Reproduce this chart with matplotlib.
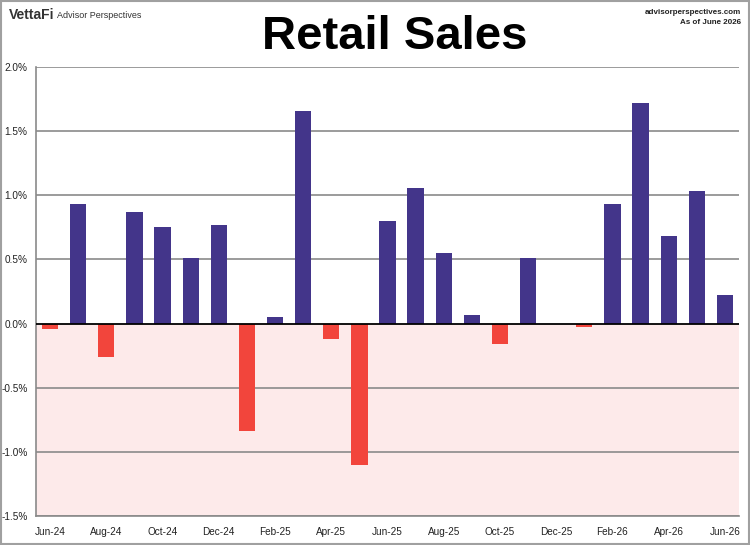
import numpy as np
import matplotlib.pyplot as plt
from matplotlib.patches import Rectangle

plt.rcParams['font.family'] = ['Liberation Sans', 'DejaVu Sans']

# 月度零售销售环比变化 (%)
months = ["Jun-24", "Jul-24", "Aug-24", "Sep-24", "Oct-24", "Nov-24", "Dec-24",
          "Jan-25", "Feb-25", "Mar-25", "Apr-25", "May-25", "Jun-25", "Jul-25",
          "Aug-25", "Sep-25", "Oct-25", "Nov-25", "Dec-25", "Jan-26", "Feb-26",
          "Mar-26", "Apr-26", "May-26", "Jun-26"]
changes = [-0.04, 0.93, -0.26, 0.87, 0.75, 0.51, 0.77,
           -0.84, 0.05, 1.66, -0.12, -1.10, 0.80, 1.06,
           0.55, 0.07, -0.16, 0.51, 0.00, -0.03, 0.93,
           1.72, 0.68, 1.03, 0.22]
yticks = [-1.5, -1.0, -0.5, 0.0, 0.5, 1.0, 1.5, 2.0]

purple = "#43358a"
red = "#f2453c"

fig = plt.figure(figsize=(7.5, 5.45), dpi=100)
ax = fig.add_axes([36 / 750, 29 / 545, 703 / 750, 449 / 545])

x = np.arange(len(months))
vals = np.array(changes)
colors = [purple if v >= 0 else red for v in vals]

ax.set_xlim(-0.5, len(months) - 0.5)
ax.set_ylim(-1.5, 2.0)

# 负值区域浅粉背景
ax.axhspan(-1.5, 0, color="#fdeaea", zorder=0)

for y in yticks:
    if y != 0:
        ax.axhline(y, color="#8a8a8a", lw=1.2, zorder=1)

ax.bar(x, vals, width=0.58, color=colors, zorder=2)
ax.axhline(0, color="black", lw=1.3, zorder=3)

ax.set_yticks(yticks)
ax.set_yticklabels([f"{y:.1f}%" for y in yticks])
ax.set_xticks(x[::2])
ax.set_xticklabels(months[::2])
ax.tick_params(axis="both", length=0, labelsize=7.2, colors="#222222")
ax.tick_params(axis="x", pad=8)
ax.tick_params(axis="y", pad=6)

for side in ["top", "right"]:
    ax.spines[side].set_visible(False)
ax.spines["left"].set_color("#8a8a8a")
ax.spines["bottom"].set_color("#8a8a8a")
ax.spines["left"].set_linewidth(1.2)
ax.spines["bottom"].set_linewidth(1.2)

fig.text(395 / 750, 1 - 37 / 545, "Retail Sales", ha="center", va="center",
         fontsize=34, fontweight="bold")
fig.text(9 / 750, 1 - 15 / 545, "VettaFi", ha="left", va="center",
         fontsize=10, fontweight="bold", color="#333333")
fig.text(57 / 750, 1 - 15 / 545, "Advisor Perspectives", ha="left", va="center",
         fontsize=6.5, color="#333333")
fig.text(741 / 750, 1 - 12 / 545, "advisorperspectives.com", ha="right", va="center",
         fontsize=5.8, fontweight="bold", color="#222222")
fig.text(741 / 750, 1 - 22 / 545, "As of June 2026", ha="right", va="center",
         fontsize=5.8, fontweight="bold", color="#222222")

# 外框
fig.patches.append(Rectangle((0.001, 0.002), 0.997, 0.996, transform=fig.transFigure,
                             fill=False, edgecolor="#a0a0a0", lw=1.5))

fig.savefig("out.png", dpi=100)
